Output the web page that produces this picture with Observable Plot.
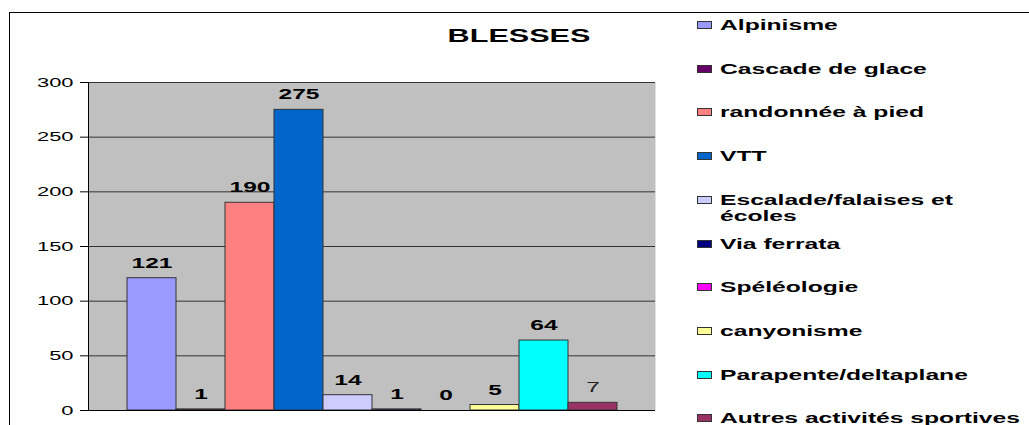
<!DOCTYPE html>
<html>
<head>
<meta charset="utf-8">
<script src="https://cdn.jsdelivr.net/npm/d3@7"></script>
<script src="https://cdn.jsdelivr.net/npm/@observablehq/plot@0.6"></script>
<style>
  body { margin: 0; background: #fff; font-family: "Liberation Sans", Arial, sans-serif; }
  #wrap { position: relative; width: 1029px; height: 425px; overflow: hidden; }
  #frame { position: absolute; left: 9px; top: 12px; width: 1100px; height: 500px;
           border-top: 1.5px solid #000; border-left: 1.5px solid #000; }
  #title { position: absolute; left: 419px; width: 200px; top: 26px; text-align: center;
           font-size: 18px; font-weight: bold; line-height: 20px; color: #000; }
  #title span { display: inline-block; transform: scaleX(1.7); transform-origin: center; }
  #chart { position: absolute; left: 0; top: 50px; }
  .lg { position: absolute; left: 697px; font-size: 14px; font-weight: bold; line-height: 16px; color: #000; }
  .sw { position: absolute; left: 0; top: 4px; width: 13px; height: 6px; border: 1px solid #333; }
  .lt { position: absolute; left: 23px; top: 0; white-space: pre; transform: scaleX(1.76); transform-origin: left; }
</style>
</head>
<body>
<div id="wrap">
  <div id="frame"></div>
  <div id="title"><span>BLESSES</span></div>
  <div id="chart"></div>
  <div id="legend"></div>
</div>
<script>
const categories = ["Alpinisme", "Cascade de glace", "randonnée à pied", "VTT",
  "Escalade/falaises et écoles", "Via ferrata", "Spéléologie", "canyonisme",
  "Parapente/deltaplane", "Autres activités sportives"];
const legendLabels = ["Alpinisme", "Cascade de glace", "randonnée à pied", "VTT",
  "Escalade/falaises et\nécoles", "Via ferrata", "Spéléologie", "canyonisme",
  "Parapente/deltaplane", "Autres activités sportives"];
const values = [121, 1, 190, 275, 14, 1, 0, 5, 64, 7];
const colors = ["#9999ff", "#660066", "#ff8080", "#0066cc", "#ccccff",
  "#000080", "#ff00ff", "#ffff99", "#00ffff", "#993366"];
const yTicks = [0, 50, 100, 150, 200, 250, 300];

const data = categories.map((name, i) => ({name, value: values[i]}));
const lastName = categories[categories.length - 1];

const chart = Plot.plot({
  width: 680,
  height: 375,
  marginLeft: 88,
  marginRight: 25,
  marginTop: 32,
  marginBottom: 15,
  style: {fontFamily: "'Liberation Sans', Arial, sans-serif", background: "transparent", color: "#000"},
  x: {domain: categories, axis: null, paddingInner: 0, paddingOuter: 0.774},
  y: {domain: [0, 300]},
  color: {domain: categories, range: colors},
  marks: [
    Plot.frame({fill: "#c0c0c0", stroke: "none"}),
    Plot.ruleY(yTicks.filter(d => d > 0), {stroke: "#333", strokeWidth: 1}),
    Plot.barY(data, {x: "name", y: "value", fill: "name", stroke: "#333", strokeWidth: 1}),
    Plot.ruleY([0], {stroke: "#000", strokeWidth: 1}),
    Plot.frame({anchor: "left", stroke: "#000", strokeWidth: 1}),
    Plot.axisY({ticks: yTicks, label: null, tickSize: 8, tickPadding: 7, fontSize: 12.5, stroke: "#000", fill: "#000"}),
    Plot.text(data.filter(d => d.name !== lastName), {x: "name", y: "value", text: d => String(d.value),
      dy: -15, lineAnchor: "middle", fontWeight: "bold", fontSize: 14, fill: "#000"}),
    Plot.text(data.filter(d => d.name === lastName), {x: "name", y: "value", text: d => String(d.value),
      dy: -15, lineAnchor: "middle", fontWeight: "normal", fontSize: 14, fill: "#222"})
  ]
});
document.getElementById("chart").appendChild(chart);

// horizontal stretch of the text, as in the reference
chart.querySelectorAll("text").forEach(t => {
  const L = t.getComputedTextLength();
  if (L > 0) {
    t.setAttribute("textLength", (L * 1.75).toFixed(1));
    t.setAttribute("lengthAdjust", "spacingAndGlyphs");
  }
});

// legend
const legend = document.getElementById("legend");
const rowTop = 17, rowStep = 43.7;
legendLabels.forEach((lab, i) => {
  const item = document.createElement("div");
  item.className = "lg";
  item.style.top = (rowTop + i * rowStep) + "px";
  const sw = document.createElement("div");
  sw.className = "sw";
  sw.style.background = colors[i];
  const tx = document.createElement("div");
  tx.className = "lt";
  tx.textContent = lab;
  item.appendChild(sw);
  item.appendChild(tx);
  legend.appendChild(item);
});
</script>
</body>
</html>
